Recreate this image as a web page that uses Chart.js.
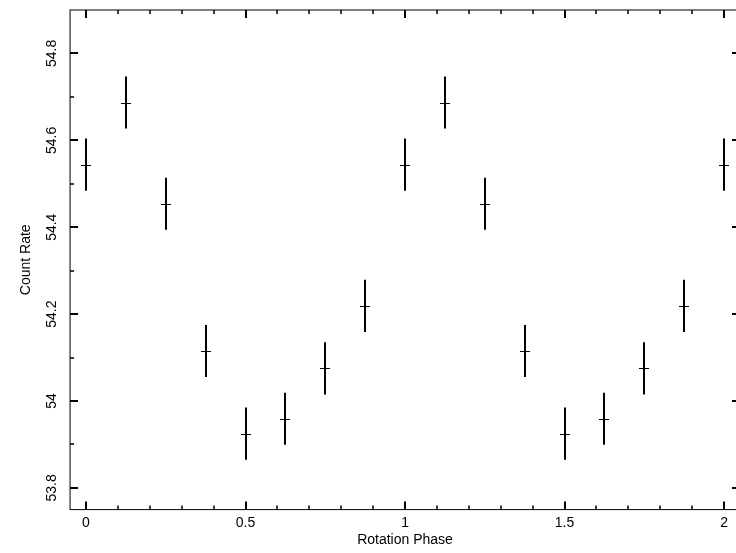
<!DOCTYPE html>
<html lang="en">
  <head>
    <meta charset="UTF-8" />
    <title>Count Rate vs Rotation Phase</title>
    <script src="https://cdn.jsdelivr.net/npm/chart.js@4.4.1/dist/chart.umd.min.js"></script>
    <style>
      body {
        margin: 0;
        background: #fff;
        width: 736px;
        height: 553px;
        overflow: hidden;
      }
      #wrap {
        width: 744px;
        height: 553px;
      }
    </style>
  </head>
  <body>
    <div id="wrap"><canvas id="phaseChart" width="744" height="553"></canvas></div>

    <script>
      // folded light curve, two cycles
      const phases = [
        0, 0.125, 0.25, 0.375, 0.5, 0.625, 0.75, 0.875, 1, 1.125, 1.25, 1.375,
        1.5, 1.625, 1.75, 1.875, 2,
      ];
      const countRates = [
        54.544, 54.687, 54.454, 54.115, 53.925, 53.959, 54.075, 54.219, 54.544,
        54.687, 54.454, 54.115, 53.925, 53.959, 54.075, 54.219, 54.544,
      ];
      const rateErrors = [
        0.06, 0.06, 0.06, 0.06, 0.06, 0.06, 0.06, 0.06, 0.06, 0.06, 0.06, 0.06,
        0.06, 0.06, 0.06, 0.06, 0.06,
      ];
      const xTickValues = [0, 0.5, 1, 1.5, 2];
      const xTickLabels = ["0", "0.5", "1", "1.5", "2"];
      const yTickValues = [53.8, 54, 54.2, 54.4, 54.6, 54.8];
      const yTickLabels = ["53.8", "54", "54.2", "54.4", "54.6", "54.8"];

      const FONT = "'Liberation Sans', Arial, sans-serif";

      // frame, inward ticks, error bars, rotated y labels
      const framePlugin = {
        id: "frame",
        afterDatasetsDraw(chart) {
          const { ctx, chartArea: a, scales } = chart;
          const xs = scales.x;
          const ys = scales.y;
          ctx.save();
          ctx.strokeStyle = "#000";

          ctx.lineWidth = 1;
          ctx.strokeRect(a.left, a.top, a.right - a.left, a.bottom - a.top);

          // x ticks (top and bottom)
          for (let i = 0; i <= 20; i++) {
            const v = i / 10;
            const px = Math.round(xs.getPixelForValue(v));
            const major = i % 5 === 0;
            const len = major ? 8 : 4;
            ctx.lineWidth = major ? 2 : 1.5;
            ctx.beginPath();
            ctx.moveTo(px, a.bottom);
            ctx.lineTo(px, a.bottom - len);
            ctx.moveTo(px, a.top);
            ctx.lineTo(px, a.top + len);
            ctx.stroke();
          }

          // y ticks (left and right)
          for (let i = 0; i <= 10; i++) {
            const v = 53.8 + i / 10;
            const py = Math.round(ys.getPixelForValue(v));
            const major = i % 2 === 0;
            const len = major ? 8 : 4;
            ctx.lineWidth = major ? 2 : 1.5;
            ctx.beginPath();
            ctx.moveTo(a.left, py);
            ctx.lineTo(a.left + len, py);
            ctx.moveTo(a.right, py);
            ctx.lineTo(a.right - len, py);
            ctx.stroke();
          }

          // error bars with small cross
          phases.forEach((p, i) => {
            const px = Math.round(xs.getPixelForValue(p));
            const yc = ys.getPixelForValue(countRates[i]);
            const y1 = ys.getPixelForValue(countRates[i] + rateErrors[i]);
            const y2 = ys.getPixelForValue(countRates[i] - rateErrors[i]);
            ctx.lineWidth = 2;
            ctx.beginPath();
            ctx.moveTo(px, y1);
            ctx.lineTo(px, y2);
            ctx.stroke();
            ctx.lineWidth = 1;
            ctx.beginPath();
            ctx.moveTo(px - 5, Math.round(yc) + 0.5);
            ctx.lineTo(px + 5, Math.round(yc) + 0.5);
            ctx.stroke();
          });

          // y tick labels, rotated
          ctx.fillStyle = "#000";
          ctx.font = "14px " + FONT;
          ctx.textAlign = "center";
          ctx.textBaseline = "middle";
          yTickValues.forEach((v, i) => {
            ctx.save();
            ctx.translate(52, ys.getPixelForValue(v));
            ctx.rotate(-Math.PI / 2);
            ctx.fillText(yTickLabels[i], 0, 0);
            ctx.restore();
          });

          ctx.restore();
        },
      };

      new Chart(document.getElementById("phaseChart"), {
        type: "scatter",
        data: {
          datasets: [
            {
              data: phases.map((p, i) => ({ x: p, y: countRates[i] })),
              pointRadius: 0,
              showLine: false,
            },
          ],
        },
        options: {
          responsive: false,
          animation: false,
          layout: { padding: { top: 10, right: 4, left: 0, bottom: 0 } },
          plugins: {
            legend: { display: false },
            tooltip: { enabled: false },
          },
          scales: {
            x: {
              type: "linear",
              min: -0.05,
              max: 2.05,
              grid: { display: false, drawTicks: false },
              border: { display: false },
              afterBuildTicks: (s) => {
                s.ticks = xTickValues.map((v) => ({ value: v }));
              },
              afterFit: (s) => {
                s.height = 43.4;
              },
              ticks: {
                autoSkip: false,
                maxRotation: 0,
                padding: 5,
                color: "#000",
                font: { family: FONT, size: 14 },
                callback: (v, i) => xTickLabels[i],
              },
              title: {
                display: true,
                text: "Rotation Phase",
                color: "#000",
                font: { family: FONT, size: 14 },
                padding: { top: 0, bottom: 4 },
              },
            },
            y: {
              type: "linear",
              min: 53.75,
              max: 54.9,
              grid: { display: false, drawTicks: false },
              border: { display: false },
              afterFit: (s) => {
                s.width = 70.05;
              },
              ticks: { display: false },
              title: {
                display: true,
                text: "Count Rate",
                color: "#000",
                font: { family: FONT, size: 14 },
                padding: { top: 18, bottom: 0 },
              },
            },
          },
        },
        plugins: [framePlugin],
      });
    </script>
  </body>
</html>
